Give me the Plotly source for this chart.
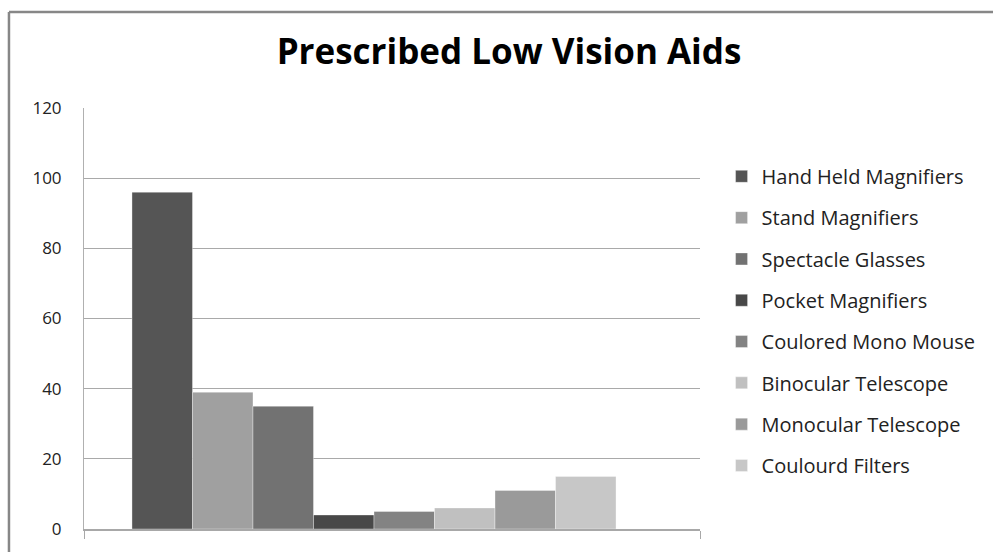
import plotly.graph_objects as go

title = "Prescribed Low Vision Aids"
series_names = [
    "Hand Held Magnifiers",
    "Stand Magnifiers",
    "Spectacle Glasses",
    "Pocket Magnifiers",
    "Coulored Mono Mouse",
    "Binocular Telescope",
    "Monocular Telescope",
    "Coulourd Filters",
]
series_values = [96, 39, 35, 4, 5, 6, 11, 15]
series_colors = ["#555555", "#a0a0a0", "#727272", "#484848",
                 "#838383", "#c0c0c0", "#9a9a9a", "#c7c7c7"]
y_ticks = [0, 20, 40, 60, 80, 100, 120]

FONT = "Open Sans, Liberation Sans, sans-serif"

fig = go.Figure()
for i, (name, val, col) in enumerate(zip(series_names, series_values, series_colors)):
    fig.add_trace(go.Bar(
        x=[0], y=[val], name=name,
        marker=dict(color=col, line=dict(color="rgba(255,255,255,0.35)", width=1)),
        legendgroup=f"g{i}",
    ))

x_range = [-0.4793, 0.5388]

fig.update_layout(
    width=993, height=552,
    margin=dict(l=84, r=293, t=108, b=23),
    paper_bgcolor="white", plot_bgcolor="white",
    barmode="group", bargap=0.2, bargroupgap=0,
    title=dict(text="<b>" + title + "</b>", x=509 / 993, xref="container", xanchor="center",
               y=1 - 51.5 / 552, yref="container", yanchor="middle",
               font=dict(family=FONT, size=35, color="black")),
    showlegend=True,
    legend=dict(x=1.035, xanchor="left", y=0.884, yanchor="top",
                font=dict(family=FONT, size=20, color="#222222"),
                tracegroupgap=12.3, bgcolor="rgba(0,0,0,0)", traceorder="grouped",
                itemclick=False),
    xaxis=dict(range=x_range, showgrid=False, zeroline=False,
               tickmode="array", tickvals=x_range, ticks="outside", ticklen=8,
               tickcolor="#a8a8a8", showticklabels=False,
               showline=True, linecolor="#a8a8a8", linewidth=2),
    yaxis=dict(range=[0, 120], tickmode="array", tickvals=y_ticks,
               showgrid=True, gridcolor="#a9a9a9", gridwidth=1,
               zeroline=False, showline=True, linecolor="#b0b0b0", linewidth=1,
               ticks="", ticklabelstandoff=18,
               tickfont=dict(family=FONT, size=17, color="#222222")),
    shapes=[
        dict(type="line", xref="paper", yref="paper", x0=-0.1218, x1=1.6, y0=1.228, y1=1.228,
             line=dict(color="#878787", width=2.5)),
        dict(type="line", xref="paper", yref="paper", x0=-0.1218, x1=-0.1218, y0=1.228, y1=-0.2,
             line=dict(color="#878787", width=2.5)),
    ],
)

fig.write_html("out.html")
